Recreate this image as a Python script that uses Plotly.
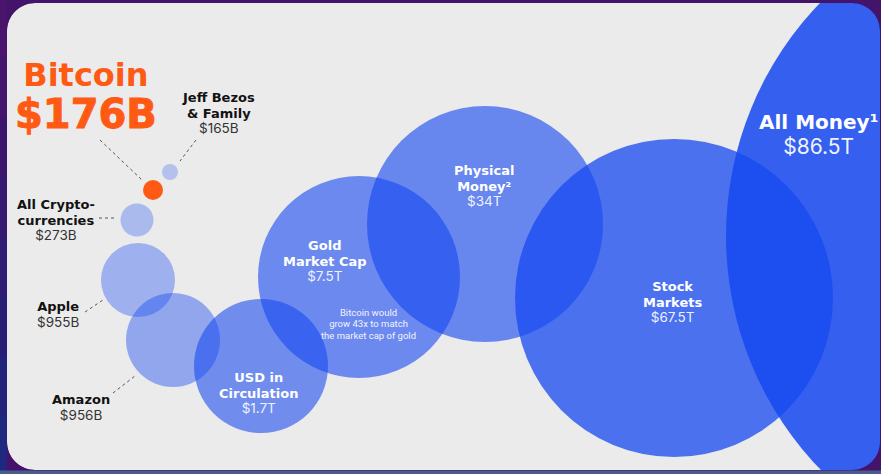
import plotly.graph_objects as go

# ---------------- data ----------------
names = ["All Money", "Stock Markets", "Physical Money", "Gold Market Cap",
         "USD in Circulation", "Amazon", "Apple", "All Cryptocurrencies",
         "Jeff Bezos & Family", "Bitcoin"]
values = ["$86.5T", "$67.5T", "$34T", "$7.5T", "$1.7T", "$956B", "$955B",
          "$273B", "$165B", "$176B"]
label_lines = [["All Money¹"], ["Stock", "Markets"], ["Physical", "Money²"],
               ["Gold", "Market Cap"], ["USD in", "Circulation"], ["Amazon"],
               ["Apple"], ["All Crypto-", "currencies"], ["Jeff Bezos", "& Family"],
               ["Bitcoin"]]
note_lines = ["Bitcoin would", "grow 43x to match", "the market cap of gold"]

# ---------------- layout (positions / sizes / styles) ----------------
W, H = 881, 474
cx = [1062, 674, 485, 359, 261, 173, 138, 137, 170, 153]
cy = [236, 298, 224, 277, 366, 340, 280, 220, 172, 190]
rad = [336, 159, 118, 101, 67, 47, 37, 16.5, 8, 10]
alpha = [0.86, 0.75, 0.62, 0.60, 0.58, 0.42, 0.36, 0.30, 0.26, 1.0]
base_rgb = (22, 72, 240)
btc_color = "#ff5a14"

blk_x = [818, 672, 484, 325, 258, 81, 58, 56, 218, 86]
blk_y = [134.5, 301.5, 185.5, 260.5, 393, 407, 314.5, 219.5, 112.5, 96]
blk_step = [24.5, 15.5, 15.5, 15.5, 15.5, 15.5, 15.5, 15.5, 15.5, 42]
lab_size = [20, 13, 13, 13, 13, 13, 13, 13, 13, 32]
val_size = [21, 13.5, 13.5, 13.5, 13.5, 13.5, 13.5, 13.5, 13.5, 40]
inside = [True, True, True, True, True, False, False, False, False, False]

note_x, note_y, note_step, note_size = 368, 323.5, 11.3, 9.5

leaders = [((100, 140), (143, 181)), ((196, 140), (180, 161)),
           ((99, 218), (117, 218)), ((85, 312), (103, 300)),
           ((113, 393), (135, 376))]

panel = dict(x0=7, y0=3, x1=880, y1=470, r=28)
frame_color = "#44136a"
left_band_colors = ["#48146c", "#42166c", "#3b176c", "#34196e", "#2d1c72",
                    "#271f76", "#22237a", "#1e287e"]
bottom_strip = "#4a5a8c"
LABEL_FONT = "DejaVu Sans"
VALUE_FONT = "Inter"
NOTE_FONT = "Roboto"

fig = go.Figure()
fig.add_trace(go.Scatter(x=[0, W], y=[0, H], mode="markers",
                         marker=dict(opacity=0), hoverinfo="skip", showlegend=False))


def rrect(x0, y0, x1, y1, r, ccw=False):
    k = 0.5523 * r
    if not ccw:
        return (f"M{x0+r},{y0} L{x1-r},{y0} C{x1-r+k},{y0} {x1},{y0+r-k} {x1},{y0+r} "
                f"L{x1},{y1-r} C{x1},{y1-r+k} {x1-r+k},{y1} {x1-r},{y1} "
                f"L{x0+r},{y1} C{x0+r-k},{y1} {x0},{y1-r+k} {x0},{y1-r} "
                f"L{x0},{y0+r} C{x0},{y0+r-k} {x0+r-k},{y0} {x0+r},{y0} Z")
    return (f"M{x0+r},{y0} C{x0+r-k},{y0} {x0},{y0+r-k} {x0},{y0+r} "
            f"L{x0},{y1-r} C{x0},{y1-r+k} {x0+r-k},{y1} {x0+r},{y1} "
            f"L{x1-r},{y1} C{x1-r+k},{y1} {x1},{y1-r+k} {x1},{y1-r} "
            f"L{x1},{y0+r} C{x1},{y0+r-k} {x1-r+k},{y0} {x1-r},{y0} Z")


shapes = [dict(type="path", xref="x", yref="y", layer="below",
               path=rrect(panel["x0"], panel["y0"], panel["x1"], panel["y1"], panel["r"]),
               fillcolor="#ebebeb", line=dict(width=0))]

for i in range(len(names)):
    fc = btc_color if names[i] == "Bitcoin" else \
        f"rgba({base_rgb[0]},{base_rgb[1]},{base_rgb[2]},{alpha[i]})"
    shapes.append(dict(type="circle", xref="x", yref="y", layer="above",
                       x0=cx[i] - rad[i], x1=cx[i] + rad[i],
                       y0=cy[i] - rad[i], y1=cy[i] + rad[i],
                       fillcolor=fc, line=dict(width=0)))

for (a, b) in leaders:
    shapes.append(dict(type="line", xref="x", yref="y", layer="above",
                       x0=a[0], y0=a[1], x1=b[0], y1=b[1],
                       line=dict(color="#555555", width=1, dash="dot")))

# dark frame around the rounded panel (hole by opposite winding)
frame_path = (f"M0,0 L{W},0 L{W},{H} L0,{H} Z " +
              rrect(panel["x0"], panel["y0"], panel["x1"], panel["y1"], panel["r"], ccw=True))
shapes.append(dict(type="path", xref="x", yref="y", layer="above",
                   path=frame_path, fillcolor=frame_color, line=dict(width=0)))
nb = len(left_band_colors)
for j, col in enumerate(left_band_colors):
    shapes.append(dict(type="rect", xref="x", yref="y", layer="above",
                       x0=0, x1=panel["x0"], y0=H * j / nb, y1=H * (j + 1) / nb + 0.5,
                       fillcolor=col, line=dict(width=0)))
shapes.append(dict(type="rect", xref="x", yref="y", layer="above",
                   x0=0, x1=W, y0=panel["y1"] + 0.5, y1=H, fillcolor=bottom_strip,
                   line=dict(width=0)))


def span(t, size, weight, color, family, extra=""):
    return (f"<span style='font-family:{family};font-size:{size}px;"
            f"font-weight:{weight};fill:{color};color:{color};{extra}'>{t}</span>")


annotations = []
for i in range(len(names)):
    vextra = ""
    if names[i] == "Bitcoin":
        lc = vc = btc_color
        lw = vw = 700
        vfam = LABEL_FONT
        vextra = f"stroke:{btc_color};stroke-width:1px"
    elif inside[i]:
        lc, vc, lw, vw, vfam = "#ffffff", "#eef2ff", 700, 400, VALUE_FONT
    else:
        lc, vc, lw, vw, vfam = "#111111", "#333333", 700, 400, VALUE_FONT
    parts = [span(t, lab_size[i], lw, lc, LABEL_FONT) for t in label_lines[i]]
    parts.append(span(values[i], val_size[i], vw, vc, vfam, vextra))
    annotations.append(dict(x=blk_x[i], y=blk_y[i], xref="x", yref="y",
                            text="<br>".join(parts), align="center",
                            showarrow=False, xanchor="center", yanchor="middle",
                            font=dict(family=LABEL_FONT, size=blk_step[i] / 1.3, color=lc)))

annotations.append(dict(
    x=note_x, y=note_y, xref="x", yref="y", align="center",
    text="<br>".join(span(t, note_size, 400, "#f2f4ff", NOTE_FONT) for t in note_lines),
    showarrow=False, xanchor="center", yanchor="middle",
    font=dict(family=NOTE_FONT, size=note_step / 1.3, color="#f2f4ff")))

fig.update_layout(
    width=W, height=H, margin=dict(l=0, r=0, t=0, b=0),
    paper_bgcolor=frame_color, plot_bgcolor="rgba(0,0,0,0)",
    xaxis=dict(range=[0, W], visible=False, fixedrange=True),
    yaxis=dict(range=[H, 0], visible=False, fixedrange=True),
    shapes=shapes, annotations=annotations, showlegend=False,
)

fig.write_html("out.html", config={"displayModeBar": False})
